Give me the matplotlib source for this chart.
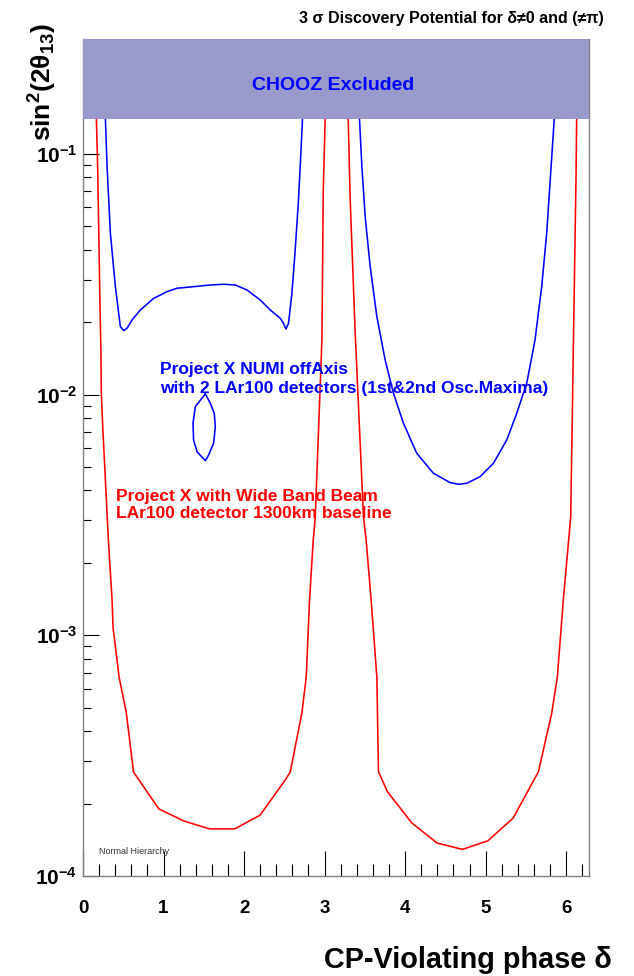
import numpy as np
import matplotlib
matplotlib.use('Agg')
import matplotlib.pyplot as plt
from matplotlib.ticker import MultipleLocator, LogLocator, FixedLocator, FuncFormatter, NullFormatter

plt.rcParams['font.family'] = ['Liberation Sans', 'DejaVu Sans']
plt.rcParams['mathtext.fontset'] = 'custom'
plt.rcParams['mathtext.rm'] = 'Liberation Sans'
plt.rcParams['mathtext.bf'] = 'Liberation Sans:bold'
plt.rcParams['mathtext.it'] = 'Liberation Sans:italic'

# ---------------- data ----------------
chooz_limit = 0.14
y_top = 0.3

# Project X wide band beam, LAr100, 1300 km (red)
red1_delta = [0.150, 0.166, 0.182, 0.210, 0.222, 0.228, 0.241, 0.315, 0.361, 0.373,
              0.448, 0.538, 0.628, 0.942, 1.257, 1.571, 1.885, 2.199, 2.513, 2.573,
              2.718, 2.772, 2.813, 2.859, 2.884, 2.967, 2.983, 3.007, 3.020]
red1_s2t = [0.3, 0.141, 0.0882, 0.0247, 0.0153, 0.0101, 0.00784, 0.00249, 0.0014, 0.00108,
            0.000671, 0.000476, 0.00027, 0.00019, 0.000169, 0.000157, 0.000157, 0.000179, 0.000251, 0.00027,
            0.000476, 0.000671, 0.0014, 0.00249, 0.0031, 0.0169, 0.0688, 0.141, 0.3]

red2_delta = [3.280, 3.293, 3.318, 3.380, 3.483, 3.516, 3.578, 3.649, 3.669, 3.780,
              4.084, 4.398, 4.712, 5.027, 5.341, 5.655, 5.820, 5.890, 5.964, 6.056,
              6.122, 6.130, 6.140]
red2_s2t = [0.3, 0.141, 0.0643, 0.018, 0.0031, 0.00249, 0.0014, 0.00067, 0.000271, 0.000224,
            0.000166, 0.000137, 0.000129, 0.00014, 0.000174, 0.000271, 0.000474, 0.00067, 0.0014, 0.0031,
            0.0802, 0.141, 0.3]

# Project X NUMI off-axis, 2 LAr100 detectors (blue)
blue1_delta = [0.260, 0.278, 0.299, 0.340, 0.402, 0.464, 0.505, 0.547, 0.609, 0.712,
               0.877, 1.043, 1.167, 1.373, 1.581, 1.746, 1.891, 2.036, 2.201, 2.325,
               2.449, 2.490, 2.520, 2.552, 2.594, 2.635, 2.676, 2.697, 2.726, 2.745]
blue1_s2t = [0.3, 0.1406, 0.0885, 0.0468, 0.0281, 0.01915, 0.01844, 0.01886, 0.0204, 0.02246,
             0.0251, 0.02676, 0.02765, 0.02807, 0.02853, 0.02872, 0.02853, 0.0272, 0.0247, 0.02246,
             0.02075, 0.01977, 0.01873, 0.01977, 0.02636, 0.0399, 0.0644, 0.0885, 0.1406, 0.3]

blue2_delta = [3.420, 3.433, 3.463, 3.504, 3.566, 3.649, 3.752, 3.855, 3.979, 4.145,
               4.351, 4.558, 4.661, 4.766, 4.931, 5.096, 5.262, 5.386, 5.510, 5.613,
               5.696, 5.758, 5.799, 5.840, 5.852, 5.870]
blue2_s2t = [0.3, 0.1406, 0.0885, 0.0548, 0.0340, 0.02107, 0.01392, 0.01013, 0.00760, 0.00570,
             0.00471, 0.00431, 0.00424, 0.00428, 0.00456, 0.00518, 0.00648, 0.00836, 0.01114, 0.01687,
             0.0281, 0.0468, 0.0755, 0.1218, 0.1406, 0.3]

blue3_delta = [1.519, 1.395, 1.366, 1.373, 1.416, 1.519, 1.560, 1.622, 1.643, 1.630, 1.581, 1.519]
blue3_s2t = [0.01006, 0.00891, 0.0076, 0.00648, 0.00579, 0.00531, 0.00561, 0.00628, 0.00735, 0.00836, 0.0092, 0.01006]

x_ticks = [0, 1, 2, 3, 4, 5, 6]
y_ticks = [1e-4, 1e-3, 1e-2, 1e-1]

# ---------------- figure ----------------
W, H = 634, 976
fig = plt.figure(figsize=(W / 100, H / 100), dpi=100)
ax = fig.add_axes([83 / W, (H - 876) / H, 506 / W, 837 / H])

lw = 1.15
ax.plot(red1_delta, red1_s2t, color='#ff0000', lw=lw, zorder=3)
ax.plot(red2_delta, red2_s2t, color='#ff0000', lw=lw, zorder=3)
ax.plot(blue1_delta, blue1_s2t, color='#0000ff', lw=lw, zorder=3)
ax.plot(blue2_delta, blue2_s2t, color='#0000ff', lw=lw, zorder=3)
ax.plot(blue3_delta, blue3_s2t, color='#0000ff', lw=lw, zorder=3)

ax.axhspan(chooz_limit, y_top, color='#9999cc', lw=0, zorder=5)

ax.set_yscale('log')
ax.set_xlim(0, 2 * np.pi)
ax.set_ylim(1e-4, y_top)

ax.xaxis.set_major_locator(FixedLocator(x_ticks))
ax.xaxis.set_minor_locator(MultipleLocator(0.2))
ax.yaxis.set_major_locator(FixedLocator(y_ticks))
ax.yaxis.set_minor_locator(LogLocator(base=10, subs=np.arange(2, 10)))
ax.yaxis.set_minor_formatter(NullFormatter())
ax.yaxis.set_major_formatter(FuncFormatter(lambda v, p: r'$\mathbf{10^{%d}}$' % int(round(np.log10(v)))))
ax.xaxis.set_major_formatter(FuncFormatter(lambda v, p: '%d' % v))

ax.tick_params(which='both', direction='in', top=False, right=False, colors='black')
ax.tick_params(axis='x', which='major', length=18, width=0.8, pad=17, labelsize=13.5)
ax.tick_params(axis='x', which='minor', length=9, width=0.8)
ax.tick_params(axis='y', which='major', length=11.5, width=0.8, pad=4, labelsize=15)
ax.tick_params(axis='y', which='minor', length=5.8, width=0.8)
for lab in ax.get_xticklabels():
    lab.set_fontweight('bold')

for s in ax.spines.values():
    s.set_color('#808080')
    s.set_linewidth(1.0)
ax.spines['top'].set_visible(False)

# texts in pixel positions
def fx(px):
    return px / W

def fy(py):
    return 1 - py / H

fig.text(fx(333), fy(86), 'CHOOZ Excluded', color='#0000ff', fontsize=14, fontweight='bold',
         ha='center', va='center', zorder=6)
fig.text(fx(604), fy(18), '3 σ Discovery Potential for δ≠0 and (≠π)', ha='right', va='center',
         fontsize=11.5, fontweight='bold')
fig.text(fx(612), fy(960), 'CP-Violating phase δ', ha='right', va='center',
         fontsize=20.8, fontweight='bold')
fig.text(fx(43), fy(23), r'$\mathbf{sin^{2}(2\theta_{13})}$', ha='center', va='top',
         rotation=90, fontsize=19)

fig.text(fx(160), fy(369), 'Project X NUMI offAxis', color='#0000ff', fontsize=12.5,
         fontweight='bold', ha='left', va='center')
fig.text(fx(160), fy(389), 'with 2 LAr100 detectors (1st&2nd Osc.Maxima)', color='#0000ff',
         fontsize=12.5, fontweight='bold', ha='left', va='center')
fig.text(fx(116), fy(496), 'Project X with Wide Band Beam', color='#ff0000', fontsize=12.5,
         fontweight='bold', ha='left', va='center')
fig.text(fx(116), fy(514), 'LAr100 detector 1300km baseline', color='#ff0000', fontsize=12.5,
         fontweight='bold', ha='left', va='center')
fig.text(fx(99), fy(852), 'Normal Hierarchy', color='#333333', fontsize=6.5, ha='left', va='center')

fig.savefig('out.png', dpi=100)
